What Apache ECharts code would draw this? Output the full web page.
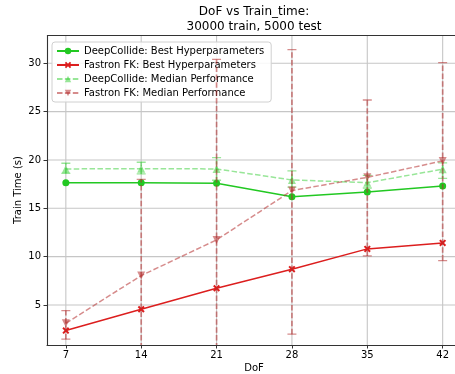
<!DOCTYPE html>
<html>
<head>
<meta charset="utf-8">
<script src="https://cdn.jsdelivr.net/npm/echarts@6/dist/echarts.min.js"></script>
<style>
  html, body { margin: 0; padding: 0; background: #fff; }
  #chart { width: 455px; height: 374px; }
</style>
</head>
<body>
<div id="chart"></div>
<script>
// Degrees of freedom (x positions and tick labels)
const dof = [7, 14, 21, 28, 35, 42];
const yTicks = [5, 10, 15, 20, 25, 30];

// Training time in seconds
const dcBest = [17.65, 17.65, 17.59, 16.2, 16.69, 17.31];
const ffBest = [2.35, 4.56, 6.73, 8.70, 10.8, 11.42];

const dcMedian = [19.07, 19.1, 19.07, 17.93, 17.65, 19.04];
const dcLow    = [18.6, 18.55, 17.9, 17.18, 17.1, 18.1];
const dcHigh   = [19.66, 19.76, 20.24, 18.86, 18.4, 19.7];

const ffMedian = [3.11, 8.04, 11.73, 16.83, 18.2, 19.9];
const ffLow    = [1.46, 0.5, 0.5, 1.98, 10.07, 9.59];
const ffHigh   = [4.42, 18.0, 30.4, 31.4, 26.2, 30.06];

const FONT = 'DejaVu Sans';
const GREEN = '#22c822';
const RED = '#dc1e1e';
const GREEN_MED = 'rgba(50,205,50,0.5)';
const RED_MED = 'rgba(180,45,45,0.55)';
const SPINE = '#333';
const X_MARK = 'path://M2,0 L5,3 L8,0 L10,2 L7,5 L10,8 L8,10 L5,7 L2,10 L0,8 L3,5 L0,2 Z';

const pairs = (xs, ys) => xs.map((x, i) => [x, ys[i]]);
const triples = (xs, lo, hi) => xs.map((x, i) => [x, lo[i], hi[i]]);

function errorBars(color) {
  return function (params, api) {
    const x = api.value(0);
    const lo = api.coord([x, api.value(1)]);
    const hi = api.coord([x, api.value(2)]);
    const cap = 4.5;
    return {
      type: 'group',
      children: [
        { type: 'line', shape: { x1: lo[0], y1: lo[1], x2: hi[0], y2: hi[1] },
          style: { stroke: color, lineWidth: 1.7, lineDash: [5.5, 2.4] } },
        { type: 'line', shape: { x1: hi[0] - cap, y1: hi[1], x2: hi[0] + cap, y2: hi[1] },
          style: { stroke: color, lineWidth: 1.3 } },
        { type: 'line', shape: { x1: lo[0] - cap, y1: lo[1], x2: lo[0] + cap, y2: lo[1] },
          style: { stroke: color, lineWidth: 1.3 } }
      ]
    };
  };
}

function gridLines(vertical) {
  return function (params, api) {
    const v = api.value(0);
    const cs = params.coordSys;
    let shape;
    if (vertical) {
      const p = api.coord([v, 10]);
      shape = { x1: p[0], y1: cs.y, x2: p[0], y2: cs.y + cs.height };
    } else {
      const p = api.coord([10, v]);
      shape = { x1: cs.x, y1: p[1], x2: cs.x + cs.width, y2: p[1] };
    }
    return { type: 'line', shape: shape, style: { stroke: '#c6c6c6', lineWidth: 1.1 } };
  };
}

// top edge of the plotting area
function topSpine(params) {
  const cs = params.coordSys;
  return { type: 'line', shape: { x1: cs.x, y1: cs.y, x2: cs.x + cs.width, y2: cs.y },
           style: { stroke: SPINE, lineWidth: 1.1 } };
}

const chart = echarts.init(document.getElementById('chart'), null, { renderer: 'canvas' });

chart.setOption({
  animation: false,
  backgroundColor: '#fff',
  textStyle: { fontFamily: FONT },
  title: {
    text: 'DoF vs Train_time:\n30000 train, 5000 test',
    left: 254, top: 4, padding: 0,
    textAlign: 'center',
    textStyle: { fontFamily: FONT, fontSize: 12, fontWeight: 'normal', color: '#000', lineHeight: 15 }
  },
  // axis titles
  graphic: [
    { type: 'text', x: 254, y: 368,
      style: { text: 'DoF', font: '10px "DejaVu Sans"', fill: '#000', align: 'center', verticalAlign: 'middle' } },
    { type: 'text', x: 18.5, y: 190, rotation: Math.PI / 2,
      style: { text: 'Train Time (s)', font: '10px "DejaVu Sans"', fill: '#000', align: 'center', verticalAlign: 'middle' } }
  ],
  grid: {
    left: 47, top: 35.5, right: -6.5, bottom: 29,
    outerBoundsMode: 'none',
    containLabel: false,
    show: false
  },
  legend: {
    left: 52, top: 42,
    orient: 'vertical',
    itemWidth: 22, itemHeight: 8, itemGap: 4,
    padding: [4, 7, 4, 4],
    borderColor: '#d0d0d0', borderWidth: 1, borderRadius: 3,
    backgroundColor: 'rgba(255,255,255,0.85)',
    textStyle: { fontFamily: FONT, fontSize: 10, color: '#000' },
    data: ['DeepCollide: Best Hyperparameters', 'Fastron FK: Best Hyperparameters',
           'DeepCollide: Median Performance', 'Fastron FK: Median Performance']
  },
  xAxis: {
    type: 'value',
    min: 5.25, max: 43.75,
    axisLine: { show: true, onZero: false, lineStyle: { color: SPINE, width: 1.1 } },
    axisTick: { show: true, length: 3.5, customValues: dof },
    axisLabel: { customValues: dof, margin: 5, fontFamily: FONT, fontSize: 10, color: '#000' },
    splitLine: { show: false }
  },
  yAxis: {
    type: 'value',
    min: 0.86, max: 32.87,
    axisLine: { show: true, onZero: false, lineStyle: { color: SPINE, width: 1.1 } },
    axisTick: { show: true, length: 3.5, customValues: yTicks },
    axisLabel: { customValues: yTicks, margin: 6, fontFamily: FONT, fontSize: 10, color: '#000' },
    splitLine: { show: false }
  },
  series: [
    { type: 'custom', name: 'xgrid', silent: true, z: 0, renderItem: gridLines(true),
      data: dof.map(v => [v]), encode: { x: 0 } },
    { type: 'custom', name: 'ygrid', silent: true, z: 0, renderItem: gridLines(false),
      data: yTicks.map(v => [v]), encode: { y: 0 } },
    { type: 'custom', name: 'topSpine', silent: true, z: 6, renderItem: topSpine,
      data: [[yTicks[0]]], encode: { y: 0 } },
    {
      name: 'DeepCollide: Best Hyperparameters', type: 'line', z: 3,
      data: pairs(dof, dcBest),
      symbol: 'circle', symbolSize: 7,
      itemStyle: { color: GREEN },
      lineStyle: { color: GREEN, width: 1.5 }
    },
    {
      name: 'Fastron FK: Best Hyperparameters', type: 'line', z: 3,
      data: pairs(dof, ffBest),
      symbol: X_MARK, symbolSize: 7,
      itemStyle: { color: RED },
      lineStyle: { color: RED, width: 1.5 }
    },
    {
      name: 'DeepCollide: Median Performance', type: 'line', z: 4,
      data: pairs(dof, dcMedian),
      symbol: 'triangle', symbolSize: 8,
      itemStyle: { color: GREEN_MED },
      lineStyle: { color: GREEN_MED, width: 1.5, type: [5.5, 2.4] }
    },
    {
      type: 'custom', name: 'dcErr', z: 4, clip: true,
      renderItem: errorBars(GREEN_MED),
      data: triples(dof, dcLow, dcHigh), encode: { x: 0, y: [1, 2] }
    },
    {
      name: 'Fastron FK: Median Performance', type: 'line', z: 5,
      data: pairs(dof, ffMedian),
      symbol: 'triangle', symbolRotate: 180, symbolSize: 8,
      itemStyle: { color: RED_MED },
      lineStyle: { color: RED_MED, width: 1.5, type: [5.5, 2.4] }
    },
    {
      type: 'custom', name: 'ffErr', z: 5, clip: true,
      renderItem: errorBars(RED_MED),
      data: triples(dof, ffLow, ffHigh), encode: { x: 0, y: [1, 2] }
    }
  ]
});
</script>
</body>
</html>
